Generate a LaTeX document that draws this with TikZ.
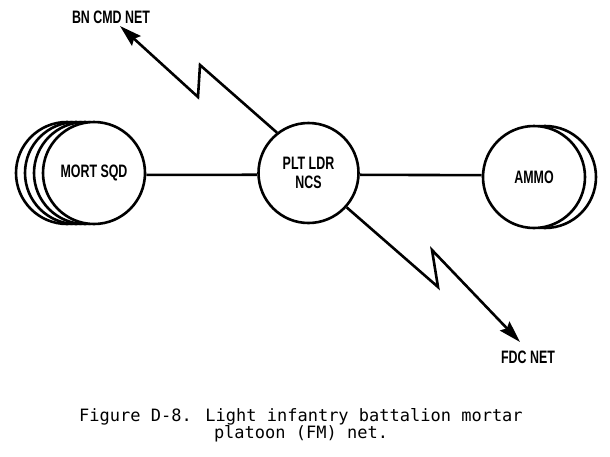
\documentclass[tikz,border=0pt]{standalone}
\usepackage{fontspec}
\usetikzlibrary{arrows.meta}
\newfontfamily\labfont[FakeStretch=0.69]{Liberation Sans}
\newfontfamily\capfont{DejaVu Sans Mono}
\begin{document}
\begin{tikzpicture}[x=1pt,y=-1pt,line width=2.6pt,
  unit/.style={circle,draw,fill=white,minimum size=102pt,inner sep=0pt,align=center,
    font={\labfont\bfseries\fontsize{18}{19.5}\selectfont}},
  lab/.style={inner sep=0pt,anchor=base,font={\labfont\bfseries\fontsize{18}{19.5}\selectfont}},
  capt/.style={inner sep=0pt,anchor=base,font={\capfont\fontsize{17}{17}\selectfont}},
  radio/.style={-{Stealth[length=22pt,width=13pt,inset=3pt]},line join=miter}]
\useasboundingbox (0,0) rectangle (610,456);
% mortar squads (stacked)
\node[unit] (mort3) at (67,173) {};
\node[unit] (mort2) at (76,173) {};
\node[unit] (mort1) at (85,173) {};
\node[unit] (mort) at (94,173) {MORT SQD};
% ammo (stacked)
\node[unit] (ammob) at (545,177) {};
\node[unit] (ammo) at (534,177) {AMMO};
% net control station
\node[unit,minimum size=100pt] (ncs) at (308.5,173) {PLT LDR\\NCS};
% links
\draw (mort.-2) -- (ncs.182);
\draw (ncs.-2) -- (ammo.178);
% radio links
\coordinate (bnA) at (200,65);
\coordinate (bnB) at (198,97);
\coordinate (bnT) at (120,26);
\draw[radio] (ncs.128) -- (bnA) -- (bnB) -- (bnT);
\coordinate (fdA) at (438,287);
\coordinate (fdB) at (432,250);
\coordinate (fdT) at (520,342);
\draw[radio] (ncs.-42) -- (fdA) -- (fdB) -- (fdT);
% labels
\node[lab] (bnlab) at (111,23) {BN CMD NET};
\node[lab] (fdclab) at (528,363) {FDC NET};
% caption
\node[capt] (cap1) at (301,421) {Figure D-8. Light infantry battalion mortar};
\node[capt] (cap2) at (301,438) {platoon (FM) net.};
\end{tikzpicture}
\end{document}
